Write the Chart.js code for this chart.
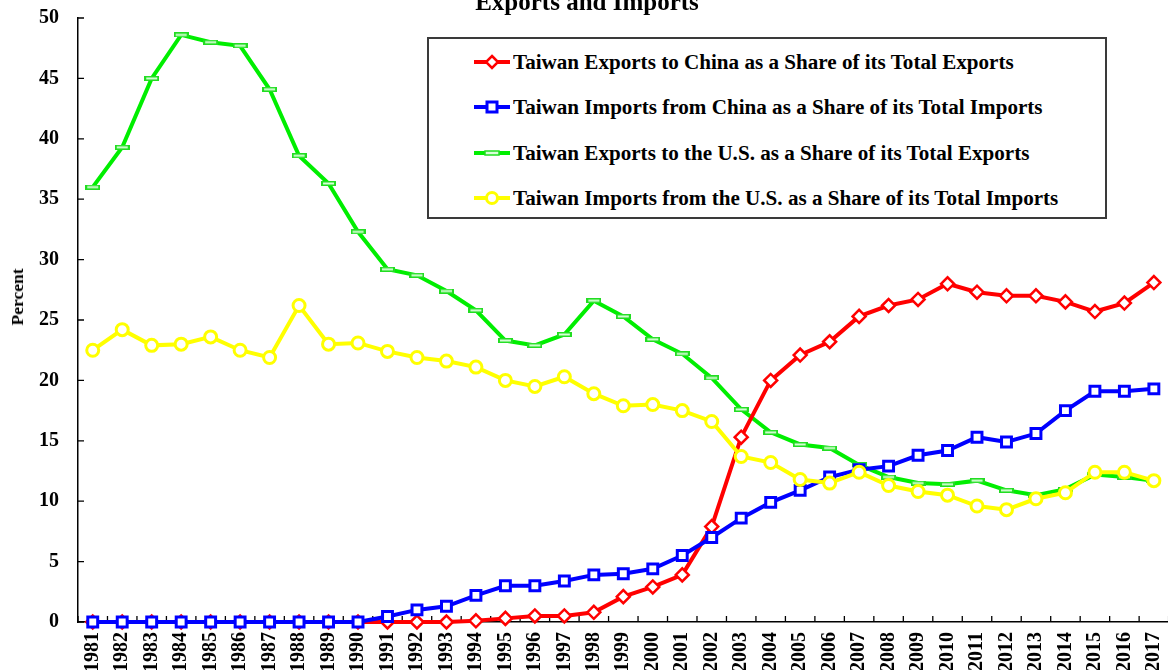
<!DOCTYPE html>
<html><head><meta charset="utf-8">
<script src="https://cdn.jsdelivr.net/npm/chart.js@4/dist/chart.umd.min.js"></script>
<style>
html,body{margin:0;padding:0;background:#fff;overflow:hidden}
#wrap{position:relative;width:1168px;height:670px;overflow:hidden}
#c{position:absolute;left:0;top:0}
#title{position:absolute;left:0;width:1174px;top:-11px;text-align:center;font:bold 25px "Liberation Serif",serif;line-height:25px;color:#000;white-space:nowrap}
#ytitle{position:absolute;left:16.5px;top:296.5px;width:0;height:0}
#ytitle span{position:absolute;left:0;top:0;transform:translate(-50%,-50%) rotate(-90deg);font:bold 17.5px "Liberation Serif",serif;line-height:18px;color:#000;white-space:nowrap}
#legend{position:absolute;left:427px;top:37px;width:680px;height:182px;border:2px solid #3a3a3a;box-sizing:border-box;background:#fff}
.row{position:absolute;left:0;height:20px;width:100%}
.row svg{position:absolute;left:45px;top:2px}
.row span{position:absolute;left:84px;top:0;font:bold 20px "Liberation Serif",serif;line-height:20px;color:#000;white-space:nowrap;transform:scaleX(1.055);transform-origin:0 50%}
</style></head>
<body><div id="wrap">
<canvas id="c" width="1188" height="670"></canvas>
<div id="title">Exports and Imports</div>
<div id="ytitle"><span>Percent</span></div>
<div id="legend"></div>
</div>
<script>
const years = ['1981','1982','1983','1984','1985','1986','1987','1988','1989','1990','1991','1992','1993','1994','1995','1996','1997','1998','1999','2000','2001','2002','2003','2004','2005','2006','2007','2008','2009','2010','2011','2012','2013','2014','2015','2016','2017'];
const exportsToChina = [0,0,0,0,0,0,0,0,0,0,0,0,0,0.1,0.3,0.5,0.5,0.8,2.1,2.9,3.9,7.9,15.3,20.0,22.1,23.2,25.3,26.2,26.7,28.0,27.3,27.0,27.0,26.5,25.7,26.4,28.1];
const importsFromChina = [0,0,0,0,0,0,0,0,0,0,0.45,1.0,1.3,2.2,3.0,3.0,3.4,3.9,4.0,4.4,5.5,7.0,8.6,9.9,10.9,12.0,12.6,12.9,13.8,14.2,15.3,14.9,15.6,17.5,19.1,19.1,19.3];
const exportsToUS = [36.0,39.3,45.0,48.6,48.0,47.7,44.1,38.6,36.3,32.3,29.2,28.7,27.4,25.8,23.3,22.9,23.8,26.6,25.3,23.4,22.2,20.2,17.6,15.7,14.7,14.4,13.0,12.0,11.5,11.4,11.7,10.9,10.5,11.0,12.2,12.0,11.7];
const importsFromUS = [22.5,24.2,22.9,23.0,23.6,22.5,21.9,26.2,23.0,23.1,22.4,21.9,21.6,21.1,20.0,19.5,20.3,18.9,17.9,18.0,17.5,16.6,13.7,13.2,11.8,11.5,12.4,11.3,10.8,10.5,9.6,9.3,10.2,10.7,12.4,12.4,11.7];
const seriesLabels = ['Taiwan Exports to China as a Share of its Total Exports','Taiwan Imports from China as a Share of its Total Imports','Taiwan Exports to the U.S. as a Share of its Total Exports','Taiwan Imports from the U.S. as a Share of its Total Imports'];
const yTicks = [0,5,10,15,20,25,30,35,40,45,50];

const RED='#ff0000', BLUE='#0000ff', GREEN='#00ee00', YELLOW='#ffff00';
const FONT='"Liberation Serif", "Times New Roman", serif';

function greenMark(){
  const c=document.createElement('canvas'); c.width=15; c.height=5;
  const g=c.getContext('2d');
  g.fillStyle='#22dd22'; g.fillRect(0,0,15,5);
  g.fillStyle='#d8ffd8'; g.fillRect(2,1.5,11,2);
  return c;
}
const gm = greenMark();

const innerTicks = {
  id:'innerTicks',
  beforeDatasetsDraw(chart){
    const ctx=chart.ctx, xs=chart.scales.x, ys=chart.scales.y, a=chart.chartArea;
    ctx.save(); ctx.strokeStyle='#000'; ctx.lineWidth=1.3;
    ctx.beginPath();
    ys.ticks.forEach((t,i)=>{ const py=ys.getPixelForTick(i); ctx.moveTo(a.left,py); ctx.lineTo(a.left+6,py); });
    const n=xs.ticks.length;
    for(let i=0;i<=n;i++){
      const px = i===0 ? a.left : (i===n ? a.right : (xs.getPixelForValue(i-1)+xs.getPixelForValue(i))/2);
      ctx.moveTo(px,a.bottom); ctx.lineTo(px,a.bottom-6);
    }
    ctx.stroke(); ctx.restore();
  }
};

const ds = (label,data,color,style,radius,order,extra)=>Object.assign({
  label,data,borderColor:color,backgroundColor:'#fff',borderWidth:4,
  pointStyle:style,pointRadius:radius,pointHoverRadius:radius,pointBorderColor:color,pointBackgroundColor:'#fff',pointBorderWidth:2.5,
  tension:0,order,clip:false
},extra||{});

const chart = new Chart(document.getElementById('c'),{
  type:'line',
  data:{labels:years,datasets:[
    ds(seriesLabels[0],exportsToChina,RED,'rectRot',6.5,2),
    ds(seriesLabels[1],importsFromChina,BLUE,'rect',7,1,{pointBorderWidth:3}),
    ds(seriesLabels[2],exportsToUS,GREEN,gm,6,3),
    ds(seriesLabels[3],importsFromUS,YELLOW,'circle',6,0,{pointBorderWidth:3})
  ]},
  options:{
    responsive:false,animation:false,devicePixelRatio:1,
    layout:{padding:{top:18,right:0,left:0,bottom:0}},
    plugins:{legend:{display:false},tooltip:{enabled:false},title:{display:false}},
    scales:{
      x:{type:'category',offset:true,
        grid:{display:true,drawOnChartArea:false,drawTicks:false},
        border:{display:true,color:'#000',width:1.5},
        ticks:{autoSkip:false,minRotation:90,maxRotation:90,color:'#000',padding:10,font:{family:FONT,weight:'bold',size:20}},
        afterFit(s){s.height=48;}
      },
      y:{min:0,max:50,
        afterBuildTicks(s){s.ticks=yTicks.map(v=>({value:v}));},
        grid:{display:true,drawOnChartArea:false,drawTicks:false},
        border:{display:true,color:'#000',width:1.5},
        ticks:{color:'#000',padding:19,font:{family:FONT,weight:'bold',size:20}},
        afterFit(s){s.width=78;s.paddingTop=0;s.paddingBottom=0;}
      }
    }
  },
  plugins:[innerTicks]
});

// HTML legend built from the datasets
const leg=document.getElementById('legend');
const rowTops=[13,58,104,149];
chart.data.datasets.forEach((d,i)=>{
  const row=document.createElement('div'); row.className='row'; row.style.top=rowTops[i]+'px';
  let mk='';
  const c=d.borderColor;
  if(d.pointStyle==='rectRot') mk=`<polygon points="18,2 24,8 18,14 12,8" fill="#fff" stroke="${c}" stroke-width="2.5"/>`;
  else if(d.pointStyle==='rect') mk=`<rect x="13" y="3" width="10" height="10" fill="#fff" stroke="${c}" stroke-width="3"/>`;
  else if(d.pointStyle==='circle') mk=`<circle cx="18" cy="8" r="5.5" fill="#fff" stroke="${c}" stroke-width="3"/>`;
  else mk=`<rect x="11" y="6" width="14" height="4" fill="#d8ffd8" stroke="#22dd22" stroke-width="1.5"/>`;
  row.innerHTML=`<svg width="36" height="16"><line x1="0" y1="8" x2="36" y2="8" stroke="${c}" stroke-width="4"/>${mk}</svg><span>${d.label}</span>`;
  leg.appendChild(row);
});
</script>
</body></html>
